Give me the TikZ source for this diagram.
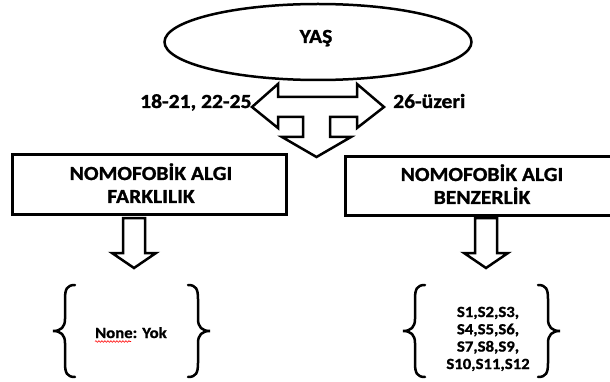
\documentclass[tikz,border=0pt]{standalone}
\usepackage{fontspec}
\setmainfont{Carlito}[FakeStretch=1.08,BoldFeatures={FakeBold=1.2}]
\usetikzlibrary{shapes.geometric,decorations.pathmorphing}
\tikzset{
  lbl/.style={inner sep=0pt,anchor=base,font=\fontsize{20}{24}\selectfont\bfseries,text=black},
  sml/.style={inner sep=0pt,anchor=base,font=\fontsize{15.5}{17}\selectfont\bfseries,text=black},
  boxst/.style={draw,line width=3pt,rectangle,inner sep=0pt},
  blockarrow/.style={draw,line width=2.5pt,fill=white,line join=miter},
  bracest/.style={draw,line width=2.5pt,line cap=round},
  lbr/.pic={\draw[bracest] (0,0) .. controls (-8,0) and (-10,4) .. (-10,14) -- (-10,34) .. controls (-10,42) and (-14,46) .. (-22,46) .. controls (-14,46) and (-10,50) .. (-10,58) -- (-10,78) .. controls (-10,88) and (-8,92) .. (0,92);}
}
\begin{document}
\begin{tikzpicture}[x=1pt,y=-1pt]
\useasboundingbox (0,0) rectangle (610,382);
\clip (0,0) rectangle (610,382);
\fill[white] (0,0) rectangle (610,382);
% ellipse
\node[draw,ellipse,line width=2.5pt,minimum width=307pt,minimum height=76pt,inner sep=0pt] (yas) at (318,42) {};
\node[lbl] (yastext) at (316,43) {YAŞ};
% three-way arrow
\draw[blockarrow] (252,107) -- (278,84) -- (278,97) -- (357,97) -- (357,84) -- (384,107) -- (357,128) -- (357,117) -- (330,117) -- (330,137) -- (351,137) -- (316.5,157) -- (282,137) -- (303,137) -- (303,117) -- (278,117) -- (278,128) -- cycle;
\node[lbl,anchor=base west] (ageleft) at (140,108) {18-21, 22-25};
\node[lbl,anchor=base west] (ageright) at (393,108) {26-üzeri};
% boxes
\node[boxst,minimum width=274pt,minimum height=59pt] (fark) at (149,184.5) {};
\node[boxst,minimum width=272pt,minimum height=58pt] (benz) at (481,186) {};
\node[lbl] (f1) at (151,180) {NOMOFOBİK ALGI};
\node[lbl] (f2) at (151,203) {FARKLILIK};
\node[lbl] (b1) at (482,181) {NOMOFOBİK ALGI};
\node[lbl] (b2) at (482,204) {BENZERLİK};
% small down arrows
\draw[blockarrow] (123,218) -- (145,218) -- (145,253) -- (156,253) -- (134,268) -- (112,253) -- (123,253) -- cycle;
\draw[blockarrow] (475,218) -- (497,218) -- (497,253) -- (508,253) -- (486,268) -- (464,253) -- (475,253) -- cycle;
% braces
\pic at (75,285) {lbr};
\pic[xscale=-1] at (188,285) {lbr};
\pic at (425,285) {lbr};
\pic[xscale=-1] at (538,285) {lbr};
% texts
\node[sml,anchor=base west] (none) at (95,338) {None: Yok};
\draw[red,line width=0.6pt,decorate,decoration={snake,amplitude=0.8pt,segment length=3pt}] (95,341.5) -- (131,341.5);
\node[sml] (s1) at (488,317) {S1,S2,S3,};
\node[sml] (s2) at (488,334.3) {S4,S5,S6,};
\node[sml] (s3) at (488,351.6) {S7,S8,S9,};
\node[sml] (s4) at (488,369) {S10,S11,S12};
\end{tikzpicture}
\end{document}
